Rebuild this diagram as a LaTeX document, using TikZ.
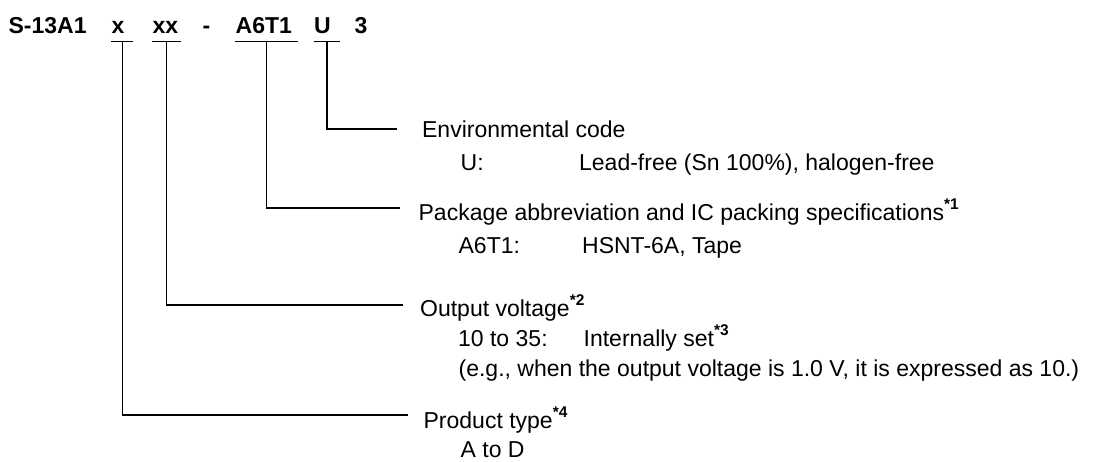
\documentclass[tikz,border=0pt]{standalone}
\usepackage{fontspec}
\setmainfont{Liberation Sans}
\usetikzlibrary{positioning}

\newcommand{\fnote}[1]{\raisebox{11pt}{\fontsize{15.5}{16}\selectfont\bfseries *#1}}

\begin{document}
\begin{tikzpicture}[x=1pt, y=-1pt, line width=1.3pt,
	every node/.style={font=\fontsize{23}{27}\selectfont, inner sep=0pt, anchor=base west},
	code/.style={font=\fontsize{23}{27}\selectfont\bfseries, text depth=0pt, inner xsep=0pt, inner ysep=7.5pt, align=left, anchor=base west}]
			\useasboundingbox (0,0) rectangle (1107,461);
			\node[code] (sc) at (8,33) {S-13A1};
			\node[code, text width=21pt] (xc) at (111,33) {x};
			\node[code, text width=28pt] (xxc) at (152,33) {xx};
			\node[code] (dash) at (202,33) {-};
			\node[code, text width=62pt] (pc) at (235,33) {A6T1};
			\node[code, text width=25.5pt] (uc) at (313.5,33) {U};
			\node[code] (nc) at (354,33) {3};
			\foreach \c in {xc,xxc,pc,uc}
				\draw (\c.south west) -- (\c.south east);

			\node (env) at (421.5,137) {Environmental code};
			\node (ulab) at (460,170) {U:};
			\node (uval) at (578.5,170) {Lead-free (Sn 100\%), halogen-free};
			\node (pkg) at (418,220) {Package abbreviation and IC packing specifications\fnote{1}};
			\node (plab) at (458,253) {A6T1:};
			\node (pval) at (581.5,253) {HSNT-6A, Tape};
			\node (outv) at (419.5,316) {Output voltage\fnote{2}};
			\node (vlab) at (457.5,346) {10 to 35:};
			\node (vval) at (583,346) {Internally set\fnote{3}};
			\node (vnote) at (458,376) {(e.g., when the output voltage is 1.0 V, it is expressed as 10.)};
			\node (ptype) at (423,428) {Product type\fnote{4}};
			\node (tval) at (460,457) {A to D};

			\draw (uc.south) |- ([xshift=-24.5pt, yshift=8pt]env.base west);
			\draw (pc.south) |- ([xshift=-18pt, yshift=12pt]pkg.base west);
			\draw (xxc.south) |- ([xshift=-16.5pt, yshift=11pt]outv.base west);
			\draw (xc.south) |- ([xshift=-15pt, yshift=13pt]ptype.base west);
\end{tikzpicture}
\end{document}
